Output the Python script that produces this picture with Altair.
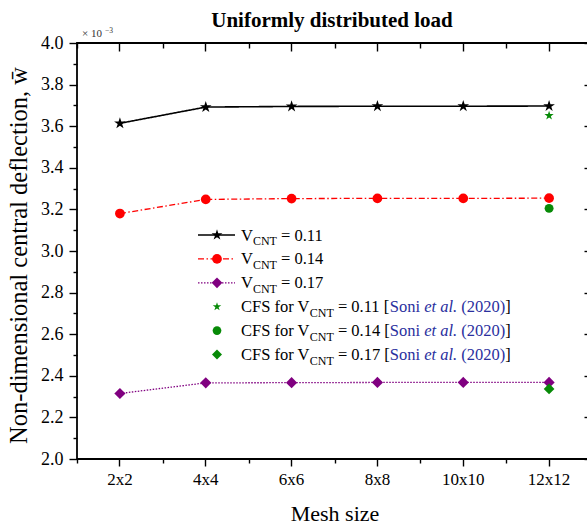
import altair as alt
import pandas as pd

# ---------------- data ----------------
mesh = ["2x2", "4x4", "6x6", "8x8", "10x10", "12x12"]
w_011 = [3.614, 3.692, 3.695, 3.696, 3.696, 3.697]
w_014 = [3.180, 3.248, 3.252, 3.253, 3.253, 3.254]
w_017 = [2.315, 2.366, 2.367, 2.368, 2.368, 2.368]
cfs_mesh = ["12x12", "12x12", "12x12"]
cfs_w = [3.651, 3.205, 2.337]
vcnt = ["0.11", "0.14", "0.17"]
y_major = [2.0, 2.2, 2.4, 2.6, 2.8, 3.0, 3.2, 3.4, 3.6, 3.8, 4.0]
y_minor = [2.1, 2.3, 2.5, 2.7, 2.9, 3.1, 3.3, 3.5, 3.7, 3.9]

FONT = "Liberation Serif"
W, H = 515, 416
STAR = ("M0,-1L0.2245,-0.309L0.951,-0.309L0.363,0.118L0.588,0.809L0,0.382"
        "L-0.588,0.809L-0.363,0.118L-0.951,-0.309L-0.2245,-0.309Z")
RED = "#ff0000"
PURPLE = "#800080"
GREEN = "#078a07"
BLUE = "#2a2f9e"

xs = alt.Scale(type="band", domain=mesh, paddingInner=0, paddingOuter=0)
ys = alt.Scale(domain=[2.0, 4.0], nice=False, zero=False)


def sdf(vals):
    return pd.DataFrame({"mesh": mesh, "w": vals})


def X(axis=None):
    return alt.X("mesh:N", scale=xs, axis=axis, sort=mesh)


def Y(axis=None):
    return alt.Y("w:Q", scale=ys, axis=axis)


one = pd.DataFrame({"k": [0]})

# ---------------- series ----------------
styles = [
    dict(vals=w_011, color="black", dash=[1, 0], shape=STAR, size=150, sw=1.6),
    dict(vals=w_014, color=RED, dash=[6, 2.5, 1.5, 2.5], shape="circle", size=95, sw=1.3),
    dict(vals=w_017, color=PURPLE, dash=[1.5, 1.5], shape="diamond", size=125, sw=1.3),
]
layers = []
for s in styles:
    d = sdf(s["vals"])
    layers.append(alt.Chart(d).mark_line(color=s["color"], strokeWidth=s["sw"],
                                          strokeDash=s["dash"]).encode(x=X(), y=Y()))
    layers.append(alt.Chart(d).mark_point(shape=s["shape"], filled=True, size=s["size"],
                                           color=s["color"], opacity=1).encode(x=X(), y=Y()))

cfs_shapes = [STAR, "circle", "diamond"]
cfs_sizes = [95, 80, 115]
for i in range(3):
    d = pd.DataFrame({"mesh": [cfs_mesh[i]], "w": [cfs_w[i]]})
    layers.append(alt.Chart(d).mark_point(shape=cfs_shapes[i], filled=True, size=cfs_sizes[i],
                                           color=GREEN, opacity=1).encode(x=X(), y=Y()))

# ---------------- axes (frame ticks) ----------------
base = sdf(w_011)
common = dict(grid=False, domain=False, tickColor="black", tickWidth=1.4,
              labelFont=FONT, labelColor="black")


def axis_layer(xaxis=None, yaxis=None):
    return alt.Chart(base).mark_point(opacity=0).encode(x=X(xaxis), y=Y(yaxis))


ytitle = "Non-dimensional central deflection, w\u0304"
layers += [
    axis_layer(xaxis=alt.Axis(orient="bottom", tickSize=7, labelFontSize=17, labelPadding=5,
                              labelAngle=0, title="Mesh size", titleFont=FONT, titleFontSize=22,
                              titleFontWeight="normal", titleColor="black", titleX=W / 2,
                              titleY=61, titleBaseline="alphabetic", **common)),
    axis_layer(xaxis=alt.Axis(orient="bottom", tickSize=4, labels=False, tickBand="extent",
                              title=None, **common)),
    axis_layer(xaxis=alt.Axis(orient="top", offset=-8, tickSize=8, labels=False, title=None,
                              **common)),
    axis_layer(xaxis=alt.Axis(orient="top", offset=-5, tickSize=5, labels=False,
                              tickBand="extent", title=None, **common)),
    axis_layer(yaxis=alt.Axis(orient="left", values=y_major, format=".1f", tickSize=8,
                              labelFontSize=18, labelPadding=6, title=ytitle, titleFont=FONT,
                              titleFontSize=24.5, titleFontWeight="normal", titleColor="black",
                              titleAngle=-90, titleX=-51, titleY=H / 2 + 4, titleAlign="center",
                              titleBaseline="alphabetic", **common)),
    axis_layer(yaxis=alt.Axis(orient="left", values=y_minor, tickSize=4, labels=False,
                              title=None, **common)),
    axis_layer(yaxis=alt.Axis(orient="right", offset=-8, values=y_major, tickSize=8,
                              labels=False, title=None, **common)),
    axis_layer(yaxis=alt.Axis(orient="right", offset=-4, values=y_minor, tickSize=4,
                              labels=False, title=None, **common)),
]

# ---------------- legend (manual, for subscripts and mixed styles) ----------------
W_REG = {' ': .25, '=': .564, '0': .5, '1': .5, '2': .5, '4': .5, '7': .5, '.': .25,
         '[': .333, ']': .333, '(': .333, ')': .333, 'C': .667, 'F': .556, 'S': .556,
         'N': .722, 'T': .611, 'V': .722, 'f': .333, 'o': .5, 'r': .333, 'n': .5,
         'i': .278, 'e': .444, 't': .278, 'a': .444, 'l': .278}
W_IT = {'e': .444, 't': .278, ' ': .25, 'a': .5, 'l': .278, '.': .25}


def tw(s, fs, italic=False):
    tab = W_IT if italic else W_REG
    return sum(tab.get(c, W_REG.get(c, .5)) for c in s) * fs


LX0, LX1, LMX, TX = 121, 158, 140, 164
FS, FSS = 16.5, 12
row_y = [192 + 23.9 * i for i in range(6)]
segs = []
for r in range(6):
    if r < 3:
        parts = [("V", FS, 0, "black", False), ("CNT", FSS, 4.5, "black", False),
                 (" = " + vcnt[r], FS, 0, "black", False)]
    else:
        parts = [("CFS for V", FS, 0, "black", False), ("CNT", FSS, 4.5, "black", False),
                 (" = " + vcnt[r - 3] + " [", FS, 0, "black", False),
                 ("Soni ", FS, 0, BLUE, False), ("et al.", FS, 0, BLUE, True),
                 (" (2020)", FS, 0, BLUE, False), ("]", FS, 0, "black", False)]
    x = TX
    for txt, fs, dy, col, it in parts:
        lead = len(txt) - len(txt.lstrip(" "))
        segs.append(dict(t=txt.strip(" "), px=x + tw(" " * lead, fs, it),
                         py=row_y[r] + 5.5 + dy, fs=fs, col=col, it=it))
        x += tw(txt, fs, it)
segdf = pd.DataFrame(segs)

for italic in (False, True):
    layers.append(alt.Chart(segdf[segdf["it"] == italic]).mark_text(
        align="left", baseline="alphabetic", font=FONT,
        fontStyle="italic" if italic else "normal").encode(
        x=alt.X("px:Q", scale=None, axis=None), y=alt.Y("py:Q", scale=None, axis=None),
        text="t:N", size=alt.Size("fs:Q", scale=None, legend=None),
        color=alt.Color("col:N", scale=None, legend=None)))

leg_line = [("black", [1, 0], 1.6), (RED, [6, 2.5, 1.5, 2.5], 1.3), (PURPLE, [1.5, 1.5], 1.3)]
leg_marks = [("black", STAR, 130), (RED, "circle", 95), (PURPLE, "diamond", 115),
             (GREEN, STAR, 80), (GREEN, "circle", 75), (GREEN, "diamond", 100)]
for i, (col, dash, sw) in enumerate(leg_line):
    layers.append(alt.Chart(one).mark_rule(color=col, strokeDash=dash, strokeWidth=sw).encode(
        x=alt.value(LX0), x2=alt.value(LX1), y=alt.value(row_y[i])))
for i, (col, shp, sz) in enumerate(leg_marks):
    layers.append(alt.Chart(one).mark_point(shape=shp, filled=True, size=sz, color=col,
                                            opacity=1).encode(
        x=alt.value(LMX), y=alt.value(row_y[i])))

# ---------------- title and multiplier ----------------
layers.append(alt.Chart(one).mark_text(text="Uniformly distributed load", font=FONT,
                                       fontSize=21, fontWeight="bold", align="center",
                                       baseline="alphabetic", color="black").encode(
    x=alt.value(255), y=alt.value(-16)))
layers.append(alt.Chart(one).mark_text(text="\u00d7 10", font=FONT, fontSize=11, align="left",
                                       baseline="alphabetic", color="#333").encode(
    x=alt.value(5), y=alt.value(-6)))
layers.append(alt.Chart(one).mark_text(text="\u22123", font=FONT, fontSize=7.5, align="left",
                                       baseline="alphabetic", color="#333").encode(
    x=alt.value(28), y=alt.value(-10)))

chart = alt.layer(*layers).resolve_axis(x="independent", y="independent").properties(
    width=W, height=H,
    autosize=alt.AutoSizeParams(type="none"),
    padding={"left": 77, "top": 43, "right": -5, "bottom": 62},
    background="white",
).configure_view(stroke="black", strokeWidth=1.8)

chart.save("out.html", embed_options={"renderer": "svg", "actions": False})
